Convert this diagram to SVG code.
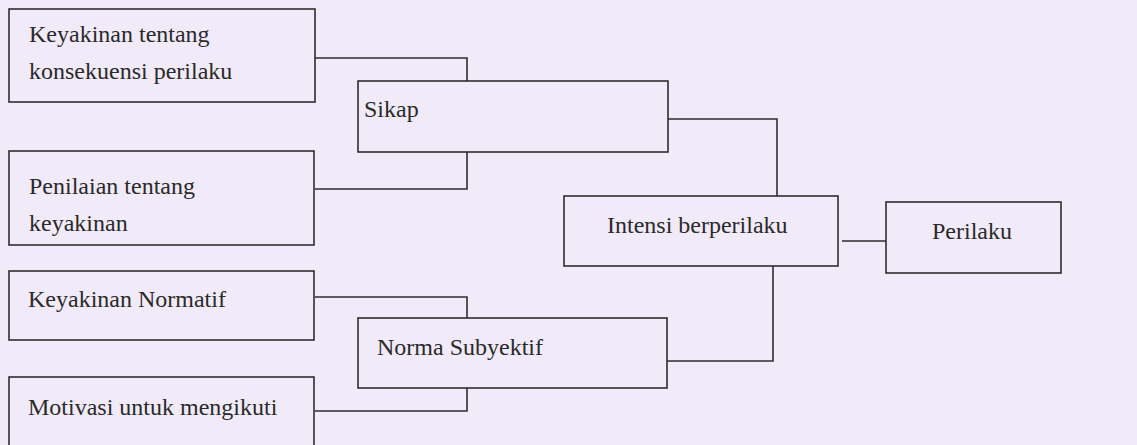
<svg xmlns="http://www.w3.org/2000/svg" width="1137" height="445" viewBox="0 0 1137 445">
<style>
.box{fill:none;stroke:#2e2e2e;stroke-width:1.6}
.ln{fill:none;stroke:#2e2e2e;stroke-width:1.6}
.t{font-family:'Liberation Serif','Times New Roman','DejaVu Serif',serif;font-size:24px;fill:#2a2a2a}
</style>
<rect x="0" y="0" width="1137" height="445" fill="#f1eaf8"/>
<g class="t" font-family="Liberation Serif, DejaVu Serif, serif">
<g id="n1"><rect class="box" x="9" y="9" width="306" height="93"/><text x="29" y="42">Keyakinan tentang</text><text x="29" y="79">konsekuensi perilaku</text></g>
<g id="n2"><rect class="box" x="9" y="151" width="305" height="94"/><text x="29" y="194">Penilaian tentang</text><text x="29" y="231">keyakinan</text></g>
<g id="n3"><rect class="box" x="9" y="271" width="305" height="69"/><text x="28" y="307">Keyakinan Normatif</text></g>
<g id="n4"><rect class="box" x="9" y="377" width="305" height="90"/><text x="28" y="415">Motivasi untuk mengikuti</text></g>
<g id="sikap"><rect class="box" x="358" y="81" width="310" height="71"/><text x="364" y="117">Sikap</text></g>
<g id="norma"><rect class="box" x="358" y="318" width="309" height="70"/><text x="377" y="355">Norma Subyektif</text></g>
<g id="intensi"><rect class="box" x="564" y="196" width="274" height="70"/><text x="607" y="233">Intensi berperilaku</text></g>
<g id="perilaku"><rect class="box" x="886" y="202" width="175" height="71"/><text x="932" y="239">Perilaku</text></g>
</g>
<g id="connectors">
<polyline class="ln" points="315,58 467,58 467,81"/>
<polyline class="ln" points="315,189 467,189 467,152"/>
<polyline class="ln" points="315,297 467,297 467,318"/>
<polyline class="ln" points="315,411 467,411 467,388"/>
<polyline class="ln" points="668,119 777,119 777,196"/>
<polyline class="ln" points="667,361 773,361 773,266"/>
<line class="ln" x1="842" y1="241" x2="886" y2="241"/>
</g>
</svg>
